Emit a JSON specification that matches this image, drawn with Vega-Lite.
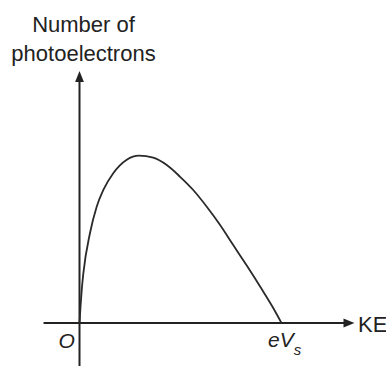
{
  "$schema": "https://vega.github.io/schema/vega-lite/v6.json",
  "width": 386,
  "height": 367,
  "autosize": "none",
  "padding": 0,
  "background": "white",
  "config": {"view": {"stroke": null}},
  "datasets": {
    "curve": [
      {"ke": 0.0, "n": 0.0},
      {"ke": 0.005, "n": 0.097},
      {"ke": 0.011, "n": 0.197},
      {"ke": 0.019, "n": 0.297},
      {"ke": 0.052, "n": 0.538},
      {"ke": 0.085, "n": 0.695},
      {"ke": 0.118, "n": 0.795},
      {"ke": 0.167, "n": 0.895},
      {"ke": 0.234, "n": 0.976},
      {"ke": 0.295, "n": 1.0},
      {"ke": 0.365, "n": 0.988},
      {"ke": 0.432, "n": 0.944},
      {"ke": 0.498, "n": 0.874},
      {"ke": 0.563, "n": 0.795},
      {"ke": 0.630, "n": 0.695},
      {"ke": 0.696, "n": 0.586},
      {"ke": 0.761, "n": 0.466},
      {"ke": 0.828, "n": 0.343},
      {"ke": 0.894, "n": 0.218},
      {"ke": 0.959, "n": 0.090},
      {"ke": 1.0, "n": 0.0}
    ],
    "axes": [
      {"axis": "KE", "x1": -0.178, "x2": 1.332, "y1": 0, "y2": 0},
      {"axis": "N", "x1": 0, "x2": 0, "y1": -0.257, "y2": 1.464}
    ],
    "arrows": [
      {"axis": "KE", "ke": 1.334, "n": 0},
      {"axis": "N", "ke": 0, "n": 1.473}
    ],
    "title": [
      {"label": "Number of", "ke": 0.0198, "n": 1.739},
      {"label": "photoelectrons", "ke": 0.0198, "n": 1.566}
    ],
    "xlabel": [
      {"label": "KE", "ke": 1.379, "n": -0.054}
    ],
    "italic": [
      {"label": "O", "ke": -0.104, "n": -0.149},
      {"label": "eV", "ke": 0.933, "n": -0.143}
    ],
    "sub": [
      {"label": "s", "ke": 1.06, "n": -0.191}
    ]
  },
  "encoding": {
    "x": {"field": "ke", "type": "quantitative", "scale": {"domain": [-0.3936, 1.5173], "zero": false, "nice": false}, "axis": null},
    "y": {"field": "n", "type": "quantitative", "scale": {"domain": [-0.263, 1.9307], "zero": false, "nice": false}, "axis": null}
  },
  "layer": [
    {
      "data": {"name": "axes"},
      "mark": {"type": "rule", "color": "#222222", "strokeWidth": 2},
      "encoding": {
        "x": {"field": "x1", "type": "quantitative"},
        "x2": {"field": "x2"},
        "y": {"field": "y1", "type": "quantitative"},
        "y2": {"field": "y2"}
      }
    },
    {
      "data": {"name": "curve"},
      "mark": {"type": "line", "color": "#2a2a2a", "strokeWidth": 1.8, "interpolate": "monotone"},
      "encoding": {}
    },
    {
      "data": {"name": "arrows"},
      "transform": [{"filter": "datum.axis === 'KE'"}],
      "mark": {"type": "point", "shape": "M-1,-0.8L1,0L-1,0.8Z", "size": 121, "filled": true, "color": "#222222", "opacity": 1},
      "encoding": {}
    },
    {
      "data": {"name": "arrows"},
      "transform": [{"filter": "datum.axis === 'N'"}],
      "mark": {"type": "point", "shape": "M-0.8,1L0,-1L0.8,1Z", "size": 121, "filled": true, "color": "#222222", "opacity": 1},
      "encoding": {}
    },
    {
      "data": {"name": "title"},
      "mark": {"type": "text", "font": "Liberation Sans", "fontSize": 22, "color": "#222222", "baseline": "alphabetic", "align": "center"},
      "encoding": {"text": {"field": "label"}}
    },
    {
      "data": {"name": "xlabel"},
      "mark": {"type": "text", "font": "Liberation Sans", "fontSize": 22, "color": "#222222", "baseline": "alphabetic", "align": "left"},
      "encoding": {"text": {"field": "label"}}
    },
    {
      "data": {"name": "italic"},
      "mark": {"type": "text", "font": "Liberation Sans", "fontSize": 21, "fontStyle": "italic", "color": "#222222", "baseline": "alphabetic", "align": "left"},
      "encoding": {"text": {"field": "label"}}
    },
    {
      "data": {"name": "sub"},
      "mark": {"type": "text", "font": "Liberation Sans", "fontSize": 15, "fontStyle": "italic", "color": "#222222", "baseline": "alphabetic", "align": "left"},
      "encoding": {"text": {"field": "label"}}
    }
  ]
}
